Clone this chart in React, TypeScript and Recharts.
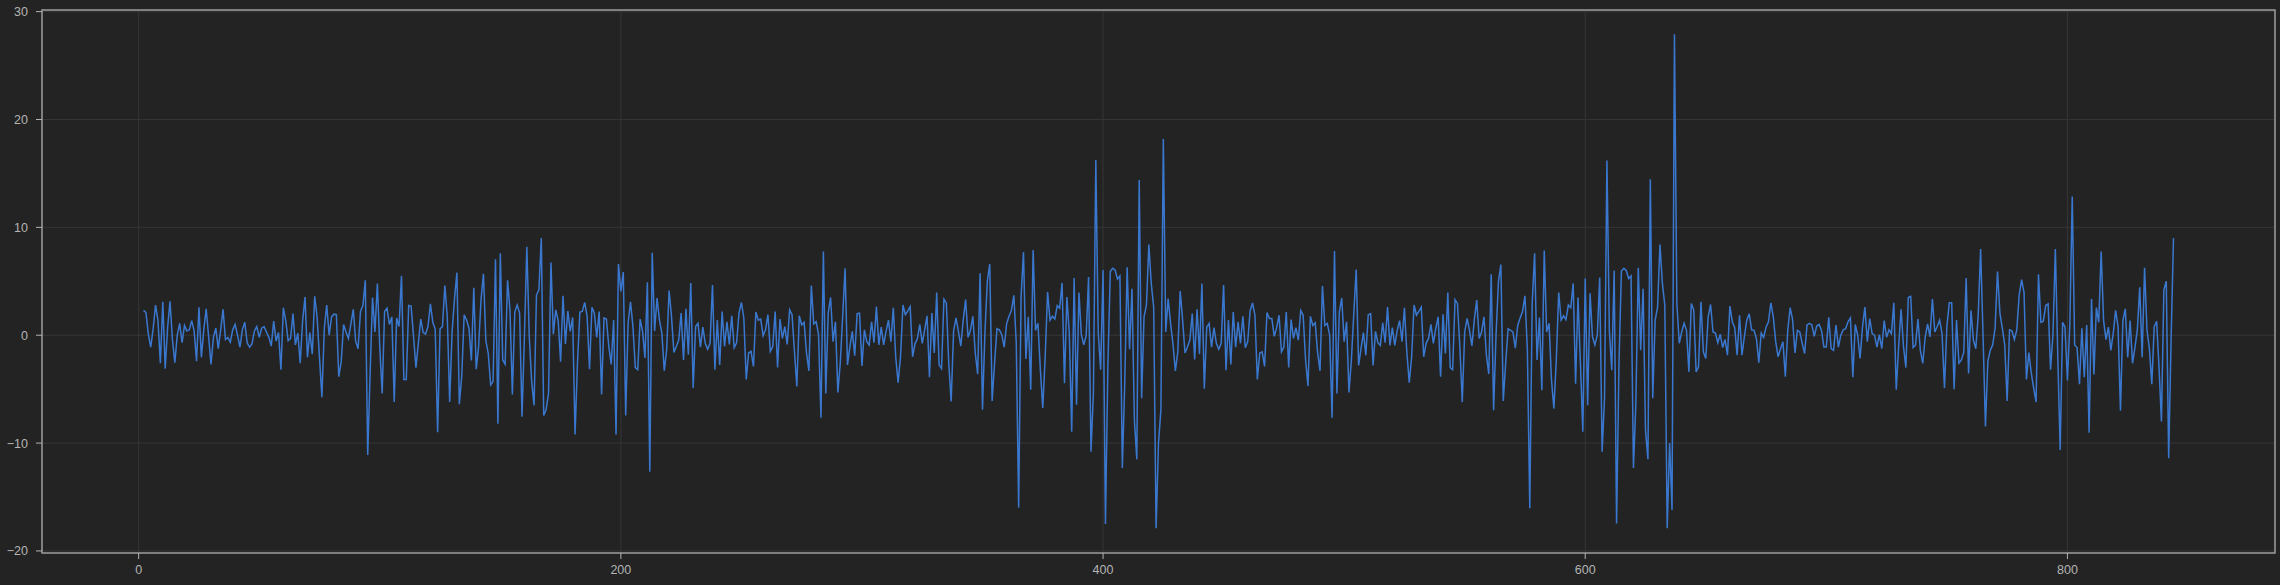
import React from 'react';
import { LineChart, Line, XAxis, YAxis, CartesianGrid, ReferenceArea } from 'recharts';

const START_INDEX = 2;

const seg1 = [2.3, 2.1, 0.1, -1.1, 0.6, 2.8, 1.35, -2.6, 3.1, -3.1, 0.7, 3.15, -0.4, -2.55, 0, 1.1, -0.7, 0.9, 0.4, 0.5,
  1.35, 0.4, -2.4, 2.6, -2.05, 0.5, 2.45, -0.1, -2.7, -0.2, 0.65, -1.25, 0.5, 2.4, -0.4, -0.2, -0.65, 0.5, 1.0, 0,
  -1.1, 0.5, 1.2, -0.7, -1.1, -0.8, 0.4, 0.8, -0.2, 0.65, 0.8, 0.3, -0.2, -1.0, 1.3, -0.55, 0.25, -3.2, 2.55, 1.35,
  -0.5, -0.3, 2.0, -0.9, 0.2, -2.6, 1.35, 3.55, -2.05, 0.25, -1.75, 3.6, 1.7, -2.1, -5.75, 0.65, 2.8, 0, 1.7, 1.95,
  1.9, -3.85, -2.45, 1.0, 0.3, -0.3, 1.0, 2.4, -0.55, -1.25, 2.2, 2.75, 5.1, -11.1, -3.5, 3.5, 0.3, 4.8, -1.1, -5.4,
  2.2, 2.5, 1.0, 1.7, -6.2, 1.6, 0.8];

const seg2 = [5.5, -4.1, -4.1, 2.75, 2.7, -0.1, -3.0, -0.75, 1.5, 0.25, 0.1, 0.8, 2.9, 1.2, 0.55, -9.0, 0.6, 0.8, 4.6, 1.7,
  -6.2, 0.35, 3.4, 5.8, -6.4, -3.8, 1.9, 1.4, 0.65, -2.35, 4.4, -3.15, -1.05, 3.3, 5.7, -0.5, -1.7, -4.6, -4.3, 7.05,
  -8.2, 7.6, -2.3, -2.7, 5.1, 2.35, -5.5, 2.15, 2.8, 2.05, -7.55, -0.1, 8.2, -0.1, -4.3, -6.5, 3.7, 4.2, 9.0, -7.45,
  -6.9, -5.4, 6.75, 0.1, 2.35, 1.35, -2.45, 3.65, -0.8, 2.25, 0.35, 1.65, -9.2, -2.6, 2.15, 2.2, 3.05];

const seg3 = [1.75, -3.15, 2.6, 2.05, -0.2, 2.2, -5.5, 1.6, 1.5, -1.05, -2.7, 1.4, -9.2, 6.6, 4.05, 5.85, -7.45, 1.1, 3.1, 0.8,
  -3.0, -3.2, 1.5, 0.35, -2.1, 4.9, -12.65, 7.65, 0.4, 3.45, 1.4, 0.2, -3.3, -1.35, 4.15, 1.75, -1.6, -1.05, -0.45, 2.05,
  -2.3, 2.45, -1.8, 4.85, -4.9, 0.8, 1.1, -1.1, 0.75, -0.75, -1.3, -0.75, 4.65, -3.2, 1.4, -2.75, 2.2, -1.05, 1.25, -0.85,
  1.8, -1.15, -0.7, 2.05, 3.05, 1.6, -4.1, -1.65, -1.5, -2.9, 2.15, 1.4, 1.5, -0.05, 0.5, 1.9, -1.5];

const seg4 = [-1.05, 2.2, -3.0, 1.5, -0.3, 0.8, -0.85, 2.35, 1.9, -1.5, -4.75, 1.8, 0.95, 1.2, -1.65, -3.3, 4.6, 1.05, 1.25, 0.05,
  -7.65, 7.75, -5.4, 2.05, 3.5, -0.6, 1.25, -5.3, -2.6, 1.75, 6.2, -2.75, -1.05, 0.35, -1.9, 2.0, 2.05, -2.85, 0.5, -0.6,
  -0.9, 1.25, -0.7, 2.65, -0.9, 0.75, -0.9, 0.35, 1.4, -0.6, 2.55, -2.0, -4.4, -2.0, 2.8, 1.9, 2.25, 2.65, -2.0, -0.8,
  -0.3, 1.0, -0.75, 0.5, 1.8, -3.9, 2.05, -1.65, 3.95, -2.75, -3.1, 3.35, 3.0, -2.6, -6.15, 0.35, 1.6];

const seg5 = [0.35, -1.0, 1.4, 3.3, -0.2, 0.45, 1.75, -1.65, -3.6, 5.75, -6.9, 0.2, 5.0, 6.6, -6.1, -2.6, 0.6, 0.5, 0.05, -1.1,
  1.05, 1.75, 2.3, 3.7, -0.7, -16.0, 3.6, 7.7, -2.2, 1.7, -5.05, 7.9, 0.45, 1.1, -3.2, -6.75, -2.0, 4.0, 1.4, 1.75,
  1.5, 2.75, 2.5, 4.85, -4.45, 3.55, 0.2, -8.95, 5.3, -6.45, 3.95, 0.05, -0.9, -0.05, 5.4, -10.8, -5.4, 16.25, 0.2, -3.2,
  6.05, -17.5, -2.9, 5.9, 6.2, 6.05, 5.2, 5.5, -12.3, -4.45, 6.3, -1.3, 4.3, -7.85, -11.5, 14.4];

const seg6 = [-5.85, 1.7, 2.8, 8.4, 4.8, 2.6, -17.9, -10.0, -6.9, 18.2, 0.3, 3.4, 1.1, -0.8, -3.3, -1.55, 4.1, 1.4, -1.65, -1.1,
  -0.45, 2.0, -2.25, 2.4, -1.75, 4.8, -4.95, 0.75, 1.1, -1.1, 0.7, -0.75, -1.3, -0.75, 4.65, -3.25, 1.4, -2.7, 2.15, -1.1,
  1.25, -0.75, 1.75, -1.15, -0.6, 2.25, 3.0, 1.85, -4.1, -1.65, -1.55, -2.9, 2.1, 1.55, 1.55, -0.1, 0.7, 1.85, -1.55, -1.1,
  2.15, -3.0, 1.45, -0.3, 0.7, -0.45, 2.3, 1.85, -2.3, -4.7, 1.75, 0.9, 1.15, -1.65, -3.3, 4.55, 0.9];

const seg7 = [1.1, 0, -7.65, 7.8, -5.4, 2.15, 3.45, -0.6, 1.25, -5.3, -2.3, 2.0, 6.1, -2.8, -1.25, 0.25, -1.85, 1.9, 2.0, -2.8,
  0.35, -0.7, -0.95, 1.15, -0.7, 2.6, -0.95, 0.7, -0.95, 0.45, 1.35, -0.6, 2.55, -1.55, -4.4, -2.0, 2.8, 1.85, 2.2, 2.6,
  -2.0, -0.75, -0.3, 1.0, -0.75, 0.6, 1.7, -3.85, 1.95, -1.7, 3.95, -3.0, -3.2, 3.3, 2.95, -1.1, -6.2, 0.3, 1.55, 0.45,
  -1.0, 1.45, 3.25, -0.3, 0.3, 1.7, -1.85, -3.6, 5.65, -6.95, 0, 4.95, 6.55, -6.1, -2.6, 0.6, 0.45];

const seg8 = [0.3, -1.2, 0.9, 1.6, 2.2, 3.65, -1.4, -16.05, 2.95, 7.6, -2.3, 1.65, -5.1, 7.85, 0.3, 1.1, -4.15, -6.8, -2.3, 3.95,
  1.4, 1.8, 1.45, 2.8, 2.55, 4.8, -4.5, 3.5, -2.6, -8.95, 5.25, -6.5, 3.9, -0.15, -0.9, 0, 5.35, -10.8, -5.85, 16.2,
  0.45, -3.25, 6.0, -17.45, -2.6, 5.95, 6.2, 6.0, 5.25, 5.5, -12.3, -6.3, 6.25, -1.4, 4.3, -8.8, -11.5, 14.45, -5.85, 1.4,
  2.6, 8.4, 4.8, 2.8, -17.9, -10.0, -16.2, 27.9, 2.95, -0.75, 0.3, 1.1, 0.45, -3.4, 2.95, 2.35, -3.4];

const seg9 = [-2.9, 3.1, -1.55, -2.15, 1.7, 2.85, 0.3, 0.2, -0.7, 0.1, -1.15, -0.4, -1.85, 2.7, 1.25, 0.7, -1.85, 1.85, -1.85, -0.15,
  1.4, 2.0, 0.5, 0.45, -0.3, -2.55, 0.2, -0.2, 0.75, 1.25, 3.0, 1.7, -0.6, -2.0, -1.25, -0.6, -3.85, 0.45, 2.55, 1.45,
  -1.65, 0.45, 0.3, -0.75, -1.7, 0.95, 1.1, 0.95, -0.1, 0.85, 1.0, 0.45, -1.1, -1.1, 1.65, -1.25, -1.4, 0.95, -1.1, 0,
  0.5, 0.6, 1.25, 1.6, -3.9, 1.0, 0, -2.15, 0.75, 2.6, -0.6, 1.55, 0.15, 0, -1.1, 0.05];

const seg10 = [-1.25, 1.35, -0.2, 0.5, 0.15, 3.0, -5.05, -1.05, 2.4, -1.05, -3.0, 3.5, 3.6, -1.15, -0.9, 1.5, -1.4, -2.6, -0.2, 1.05,
  -0.15, 3.35, 0.3, 0.8, 1.4, 0.15, -4.9, 0.8, 3.0, 3.0, -5.0, 1.4, -2.6, -2.3, -1.6, 5.3, -3.55, 2.3, -0.45, -1.25,
  1.85, 8.0, 0, -8.45, -2.4, -1.4, -0.9, 0.65, 5.9, 2.05, 0.65, -0.9, -6.1, 0.5, 0.4, -0.4, 0.5, 3.75, 5.15, 3.95,
  -4.1, -1.6, -3.5, -4.9, -6.2, 5.65, 1.2, 1.3, 2.75, 2.9, -3.2, 0.05, 8.0, -1.95, -10.65, 1.2, 0.75, -4.2, 1.0, 12.85,
  -0.9, -1.15, -4.55, 0.65, -3.9, 0.95, -9.05, 3.35, -3.65, 2.55, 1.2, 7.75, 1.35, -0.4, 0.75, -1.4, 0.15, 2.3, 0.8, -7.0,
  1.35, 2.45, -2.05, 1.35, -2.6, -1.15, 0.5, 4.45, -2.05, 6.25, 0.5, -1.25, -4.55, 0.8, 1.3, -3.0, -8.0, 4.2, 5.0, -11.4,
  -0.4, 9.0];

const xTicks = [0, 200, 400, 600, 800];
const yTicks = [-20, -10, 0, 10, 20, 30];
const xDomain = [-40.1, 886.1];
const yDomain = [-20.19, 30.15];

const values = [...seg1, ...seg2, ...seg3, ...seg4, ...seg5, ...seg6, ...seg7, ...seg8, ...seg9, ...seg10];
const data = values.map((v, i) => ({ x: START_INDEX + i, y: v }));

const BG = '#232323';
const FONT = '"Liberation Sans", Arial, sans-serif';
const tickStyle = { fill: '#b4b4b4', fontSize: 12.5, fontFamily: FONT };
const fmt = (v: number) => String(v).replace('-', '\u2212');

export default function App() {
  return (
    <div style={{ position: 'fixed', left: 0, top: 0, width: 2280, height: 585, background: BG }}>
      <LineChart width={2280} height={585} data={data} margin={{ top: 10, right: 5, bottom: 0, left: 0 }}>
        <CartesianGrid stroke="#363636" strokeWidth={1} horizontal vertical />
        <XAxis
          type="number"
          dataKey="x"
          domain={xDomain}
          ticks={xTicks}
          allowDataOverflow
          height={32}
          tickSize={6}
          tickMargin={6}
          tickFormatter={fmt}
          tick={tickStyle}
          axisLine={false}
          tickLine={{ stroke: '#b4b4b4' }}
        />
        <YAxis
          type="number"
          domain={yDomain}
          ticks={yTicks}
          allowDataOverflow
          width={42}
          tickSize={6}
          tickMargin={8}
          tickFormatter={fmt}
          tick={tickStyle}
          axisLine={false}
          tickLine={{ stroke: '#b4b4b4' }}
        />
        <Line
          type="linear"
          dataKey="y"
          stroke="#3a78d0"
          strokeWidth={1.5}
          dot={false}
          isAnimationActive={false}
        />
        <ReferenceArea
          x1={xDomain[0]}
          x2={xDomain[1]}
          y1={yDomain[0]}
          y2={yDomain[1]}
          fill="none"
          stroke="#9a9a9a"
          strokeWidth={1.5}
          ifOverflow="extendDomain"
        />
      </LineChart>
    </div>
  );
}
